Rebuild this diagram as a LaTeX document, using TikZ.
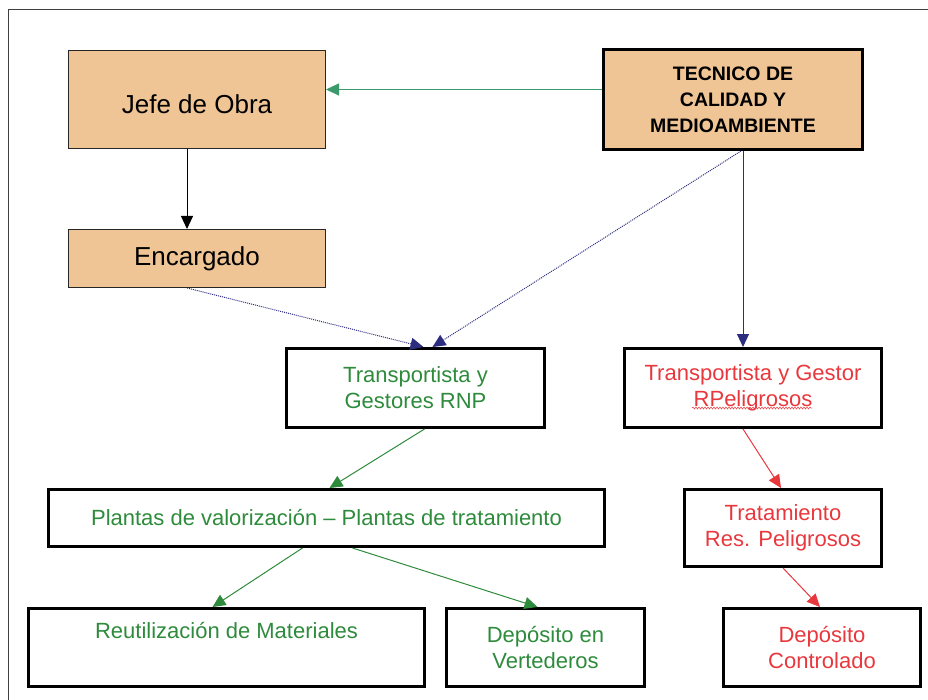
\documentclass[tikz,border=0pt]{standalone}
\usepackage{fontspec}
\setmainfont{Liberation Sans}
\usepackage{xcolor}
\usepackage{tikz}
\usetikzlibrary{arrows.meta, positioning, decorations.pathmorphing}

\definecolor{boxtan}{HTML}{F0C595}
\definecolor{rnpgreen}{HTML}{2E8B3C}
\definecolor{linkgreen}{HTML}{3A9A6B}
\definecolor{rpred}{HTML}{E8383D}
\definecolor{linknavy}{HTML}{2D2D80}

\begin{document}
\begin{tikzpicture}[x=1pt, y=-1pt,
    tanbox/.style={draw=black!85, fill=boxtan, line width=1pt, inner sep=2pt,
        minimum width=257pt, font=\fontsize{26}{30}\selectfont},
    wastebox/.style={draw=black, line width=3pt, inner sep=2pt, align=center,
        font=\fontsize{22}{26}\selectfont},
    greenbox/.style={wastebox, text=rnpgreen},
    redbox/.style={wastebox, text=rpred},
    tip/.style={-{Triangle[length=13pt, width=12pt]}},
    greenlink/.style={tip, rnpgreen, line width=1pt},
    redlink/.style={tip, rpred, line width=1pt},
    navylink/.style={tip, linknavy, line width=1pt},
    navydots/.style={navylink, densely dotted}]
                    \useasboundingbox (0,0) rectangle (928,700);
                    % Frame
                    \draw[black!75, line width=1pt] (8,700) -- (8,10) -- (928,10);
                    % Management
                    \node[tanbox, minimum height=98pt] (jefe) at (197,99.5) {\raisebox{-5pt}[\height][0pt]{Jefe de Obra}};
                    \node[tanbox, minimum height=58pt] (encargado) at (197,258.5) {Encargado};
                    \node[wastebox, fill=boxtan, minimum width=259pt, minimum height=100pt,
                        font=\bfseries\fontsize{19.5}{26}\selectfont] (tecnico) at (733,99.5)
                        {TECNICO DE\\CALIDAD Y\\MEDIOAMBIENTE};
                    % Non hazardous waste
                    \node[greenbox, minimum width=258pt, minimum height=79pt] (rnp) at (415.5,388)
                        {Transportista y\\Gestores RNP};
                    \node[greenbox, minimum width=556pt, minimum height=57pt] (plantas) at (326.5,518)
                        {Plantas de valorización -- Plantas de tratamiento};
                    \node[greenbox, minimum width=396pt, minimum height=78pt] (reutil) at (226.5,647.5)
                        {Reutilización de Materiales\\\strut};
                    \node[greenbox, minimum width=198pt, minimum height=78pt] (vertedero) at (545.5,647.5)
                        {Depósito en\\Vertederos};
                    % Hazardous waste
                    \node[redbox, minimum width=257pt, minimum height=79pt] (rpel) at (753,388)
                        {Transportista y Gestor\\RPeligrosos};
                    \node[redbox, minimum width=197pt, minimum height=77pt] (tratam) at (783,528)
                        {Tratamiento\\Res. Peligrosos};
                    \node[redbox, minimum width=197pt, minimum height=78pt] (controlado) at (822,647.5)
                        {Depósito\\Controlado};
                    % Spelling mark
                    \draw[rpred, line width=0.5pt, decorate, decoration={snake, amplitude=1pt, segment length=3pt}]
                        ([shift={(-61pt,-20pt)}]rpel.center) -- ([shift={(59pt,-20pt)}]rpel.center);
                    % Links
                    \draw[tip, linkgreen, line width=1pt] ([yshift=10pt]tecnico.west) -- ([yshift=10pt]jefe.east);
                    \draw[tip, black, line width=1pt] ([xshift=-10pt]jefe.south) -- ([xshift=-10pt]encargado.north);
                    \draw[navydots] ([xshift=-10pt]encargado.south) -- ([xshift=8pt]rnp.north);
                    \draw[navydots] ([xshift=8pt]tecnico.south) -- ([xshift=17pt]rnp.north);
                    \draw[navylink] ([xshift=10pt]tecnico.south) -- ([xshift=-10pt]rpel.north);
                    \draw[greenlink] ([xshift=9pt]rnp.south) -- ([xshift=3pt]plantas.north);
                    \draw[greenlink] ([xshift=-24pt]plantas.south) -- ([xshift=-14pt]reutil.north);
                    \draw[greenlink] ([xshift=26pt]plantas.south) -- ([xshift=-8pt]vertedero.north);
                    \draw[redlink] ([xshift=-10pt]rpel.south) -- ([xshift=-2pt]tratam.north);
                    \draw[redlink] (tratam.south) -- ([xshift=-2pt]controlado.north);
                \end{tikzpicture}
\end{document}
